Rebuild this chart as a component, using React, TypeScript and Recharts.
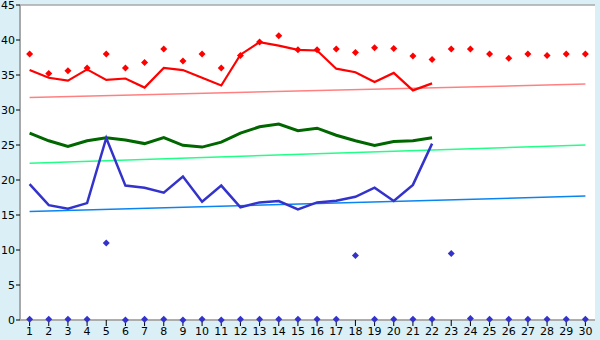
import React from 'react';
import { ComposedChart, Line, XAxis, YAxis, CartesianGrid } from 'recharts';

const days = ['1','2','3','4','5','6','7','8','9','10','11','12','13','14','15','16','17','18','19','20','21','22','23','24','25','26','27','28','29','30'];
const redLine = [35.7,34.6,34.2,35.8,34.3,34.5,33.2,36.0,35.7,34.6,33.5,37.9,39.7,39.2,38.6,38.5,35.9,35.4,34.0,35.3,32.8,33.8];
const redMarks = [38.0,35.2,35.6,36.0,38.0,36.0,36.8,38.7,37.0,38.0,36.0,37.8,39.7,40.6,38.6,38.6,38.7,38.2,38.9,38.8,37.7,37.2,38.7,38.7,38.0,37.4,38.0,37.8,38.0,38.0];
const greenLine = [26.7,25.6,24.8,25.6,26.05,25.7,25.2,26.05,24.95,24.7,25.4,26.7,27.6,28.0,27.05,27.4,26.4,25.6,24.95,25.5,25.6,26.05];
const blueLine = [19.4,16.4,15.9,16.7,26.0,19.2,18.9,18.2,20.5,16.9,19.2,16.1,16.8,17.0,15.8,16.8,17.05,17.6,18.9,17.0,19.3,25.2];
const blueMarks = [0.1,0.1,0.1,0.1,11.0,0,0.1,0.1,0,0.1,0,0.1,0.1,0.1,0.1,0.1,0.1,9.2,0.1,0.1,0.1,0.1,9.5,0.2,0.1,0.1,0.1,0.1,0.1,0.1];
const redTrend = [31.8, 33.7];
const greenTrend = [22.4, 25.0];
const blueTrend = [15.5, 17.7];
const yTicks = [0,5,10,15,20,25,30,35,40,45];

const data = days.map((d, i) => ({
  day: d,
  redLine: i < redLine.length ? redLine[i] : null,
  redMarks: redMarks[i],
  greenLine: i < greenLine.length ? greenLine[i] : null,
  blueLine: i < blueLine.length ? blueLine[i] : null,
  blueMarks: blueMarks[i],
  redTrend: i === 0 ? redTrend[0] : i === days.length - 1 ? redTrend[1] : null,
  greenTrend: i === 0 ? greenTrend[0] : i === days.length - 1 ? greenTrend[1] : null,
  blueTrend: i === 0 ? blueTrend[0] : i === days.length - 1 ? blueTrend[1] : null,
}));

const makeDiamond = (color: string) => (props: any) => {
  const { cx, cy, index } = props;
  if (cx == null || cy == null || props.value == null) return <g key={index} />;
  const r = 3.5;
  return (
    <polygon
      key={index}
      points={`${cx},${cy - r} ${cx + r},${cy} ${cx},${cy + r} ${cx - r},${cy}`}
      fill={color}
      stroke="none"
    />
  );
};

const font = { fontFamily: 'DejaVu Sans', fontSize: 11, fill: '#000' };

export default function App() {
  return (
    <div style={{ position: 'absolute', left: 0, top: 0, width: 600, height: 340, background: '#DAEFF6' }}>
      <ComposedChart width={600} height={340} data={data} margin={{ top: 5, right: 5, bottom: 0, left: 0 }}>
        <CartesianGrid vertical={false} stroke="#A8A8A8" fill="#FFFFFF" strokeWidth={1.5} />
        <XAxis
          dataKey="day"
          interval={0}
          height={20}
          tickSize={6}
          tickMargin={1}
          padding={{ left: 9.6, right: 9.6 }}
          axisLine={{ stroke: '#A8A8A8', strokeWidth: 1.5 }}
          tickLine={{ stroke: '#000' }}
          tick={font}
        />
        <YAxis
          yAxisId="l"
          domain={[0, 45]}
          ticks={yTicks}
          width={20}
          tickSize={4}
          tickMargin={1}
          axisLine={{ stroke: '#A8A8A8', strokeWidth: 2 }}
          tickLine={{ stroke: '#000' }}
          tick={font}
          interval={0}
        />
        <YAxis
          yAxisId="r"
          orientation="right"
          domain={[0, 45]}
          width={0}
          tick={false}
          tickLine={false}
          axisLine={{ stroke: '#A8A8A8', strokeWidth: 2 }}
        />
        <Line yAxisId="l" dataKey="redTrend" stroke="#FF8080" strokeWidth={1.5} dot={false} connectNulls isAnimationActive={false} />
        <Line yAxisId="l" dataKey="greenTrend" stroke="#22FF88" strokeWidth={1.5} dot={false} connectNulls isAnimationActive={false} />
        <Line yAxisId="l" dataKey="blueTrend" stroke="#0A84F0" strokeWidth={1.5} dot={false} connectNulls isAnimationActive={false} />
        <Line yAxisId="l" dataKey="greenLine" stroke="#006600" strokeWidth={3} dot={false} isAnimationActive={false} />
        <Line yAxisId="l" dataKey="blueLine" stroke="#3333CC" strokeWidth={2.5} dot={false} isAnimationActive={false} />
        <Line yAxisId="l" dataKey="redLine" stroke="#FF0000" strokeWidth={2.2} dot={false} isAnimationActive={false} />
        <Line yAxisId="l" dataKey="redMarks" stroke="none" dot={makeDiamond('#FF0000')} activeDot={false} isAnimationActive={false} />
        <Line yAxisId="l" dataKey="blueMarks" stroke="none" dot={makeDiamond('#3333CC')} activeDot={false} isAnimationActive={false} />
      </ComposedChart>
    </div>
  );
}
